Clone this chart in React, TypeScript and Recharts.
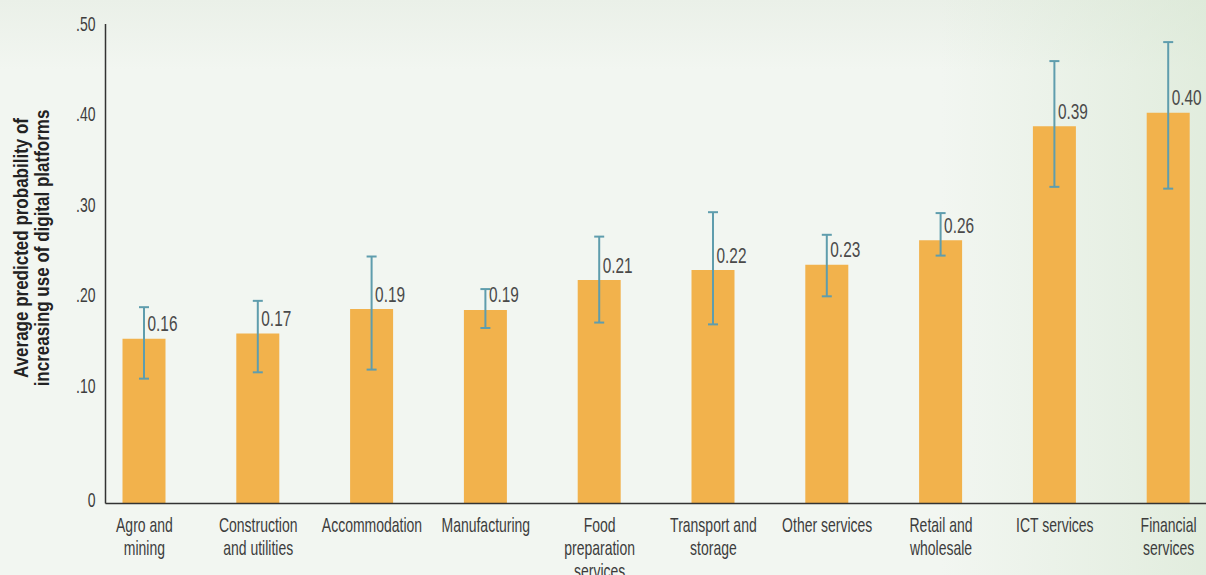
import * as Recharts from "recharts";
import React from "react";

const BarChart = Recharts.BarChart as unknown as React.FC<any>;
const Bar = Recharts.Bar as unknown as React.FC<any>;
const XAxis = Recharts.XAxis as unknown as React.FC<any>;
const YAxis = Recharts.YAxis as unknown as React.FC<any>;
const ErrorBar = Recharts.ErrorBar as unknown as React.FC<any>;
const LabelList = Recharts.LabelList as unknown as React.FC<any>;

// sectors, bar heights and 95% interval bounds
const categories = [
  "Agro and\nmining",
  "Construction\nand utilities",
  "Accommodation",
  "Manufacturing",
  "Food\npreparation\nservices",
  "Transport and\nstorage",
  "Other services",
  "Retail and\nwholesale",
  "ICT services",
  "Financial\nservices",
];
const values = [0.152, 0.158, 0.185, 0.184, 0.217, 0.228, 0.234, 0.261, 0.387, 0.402];
const ciLow = [0.108, 0.115, 0.118, 0.164, 0.17, 0.168, 0.199, 0.244, 0.32, 0.318];
const ciHigh = [0.187, 0.194, 0.243, 0.207, 0.265, 0.292, 0.267, 0.291, 0.459, 0.48];
const valueLabels = ["0.16", "0.17", "0.19", "0.19", "0.21", "0.22", "0.23", "0.26", "0.39", "0.40"];

// the printed axis puts its "0" a little below the true zero
const AXIS_MIN = -0.03;
const yTicks = [AXIS_MIN, 0.1, 0.2, 0.3, 0.4, 0.5];

// no condensed face installed, so squeeze Liberation Sans horizontally
const FONT = "'Liberation Sans', Arial, sans-serif";
const SQUEEZE = 0.7;

const data = categories.map((name, i) => ({
  name,
  range: [AXIS_MIN, values[i]],
  err: [values[i] - ciLow[i], ciHigh[i] - values[i]],
  label: valueLabels[i],
}));

const XTick = ({ x, y, payload }: any) => {
  const lines = String(payload.value).split("\n");
  return (
    <g transform={`translate(${x},${y}) scale(${SQUEEZE},1)`}>
      <text x={0} y={0} textAnchor="middle" fontFamily={FONT} fontSize={20} fill="#3d3d3d">
        {lines.map((l, i) => (
          <tspan key={i} x={0} y={28.5 + i * 23}>
            {l}
          </tspan>
        ))}
      </text>
    </g>
  );
};

const YTick = ({ x, y, payload }: any) => {
  const v = payload.value;
  const txt = v <= 0 ? "0" : "." + (v * 100).toFixed(0);
  return (
    <g transform={`translate(${x},${v <= 0 ? y - 3 : y}) scale(${SQUEEZE},1)`}>
      <text x={0} y={0} textAnchor="end" dominantBaseline="central" fontFamily={FONT} fontSize={20} fill="#3d3d3d">
        {txt}
      </text>
    </g>
  );
};

const ValueLabel = ({ x, y, width, index }: any) => (
  <g transform={`translate(${x + width / 2 + 3.5},${y - 15}) scale(${SQUEEZE},1)`}>
    <text x={0} y={0} dominantBaseline="central" fontFamily={FONT} fontSize={22} fill="#4a4a4a">
      {data[index].label}
    </text>
  </g>
);

const AxisTitle = () => (
  <g fontFamily={FONT} fontSize={21} fontWeight="bold" fill="#222">
    <g transform="translate(21,248) rotate(-90) scale(0.81,1)">
      <text x={0} y={0} textAnchor="middle" dominantBaseline="central">
        Average predicted probability of
      </text>
    </g>
    <g transform="translate(42,248) rotate(-90) scale(0.81,1)">
      <text x={0} y={0} textAnchor="middle" dominantBaseline="central">
        increasing use of digital platforms
      </text>
    </g>
  </g>
);

export default function App() {
  return (
    <div
      style={{
        position: "absolute",
        left: 0,
        top: 0,
        width: 1206,
        height: 575,
        overflow: "hidden",
        background:
          "linear-gradient(90deg, rgba(212,229,206,0) 78%, rgba(212,229,206,0.55) 100%), linear-gradient(180deg, #eaf0e8 0px, #f2f6f1 70px)",
      }}
    >
      <svg width={1206} height={575} style={{ position: "absolute", left: 0, top: 0 }}>
        <AxisTitle />
      </svg>
      <div style={{ position: "absolute", left: 0, top: 0 }}>
        <BarChart width={1206} height={575} data={data} margin={{ top: 24, right: 0, bottom: 0, left: 0 }}>
          <XAxis
            dataKey="name"
            interval={0}
            height={71.5}
            tickSize={0}
            tickMargin={0}
            tickLine={false}
            padding={{ left: -18, right: -19.5 }}
            axisLine={{ stroke: "#333", strokeWidth: 1.5 }}
            tick={<XTick />}
          />
          <YAxis
            type="number"
            width={105.5}
            domain={[AXIS_MIN, 0.5]}
            ticks={yTicks}
            interval={0}
            tickSize={0}
            tickMargin={10}
            tickLine={false}
            axisLine={{ stroke: "#333", strokeWidth: 1.5 }}
            tick={<YTick />}
          />
          <Bar dataKey="range" fill="#f2b24c" barSize={43} isAnimationActive={false}>
            <ErrorBar dataKey="err" width={5} stroke="#5f9dad" strokeWidth={2} direction="y" />
            <LabelList dataKey="label" content={<ValueLabel />} />
          </Bar>
        </BarChart>
      </div>
    </div>
  );
}
